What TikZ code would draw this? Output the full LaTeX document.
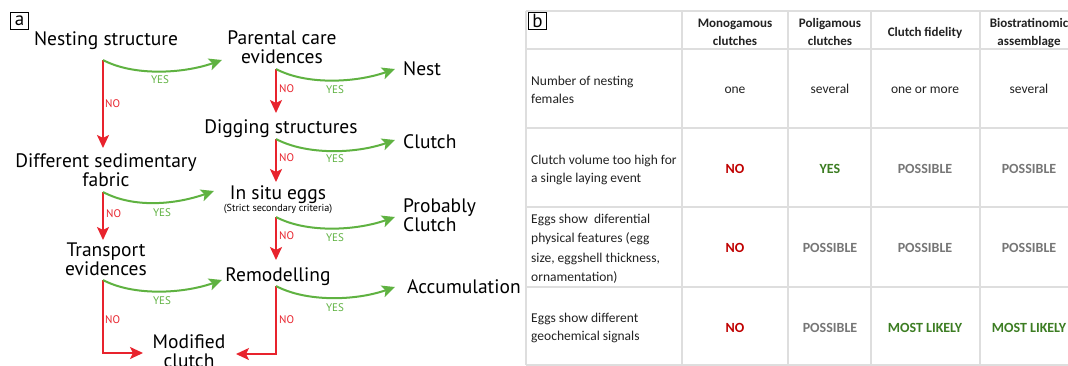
\documentclass[tikz,border=0pt]{standalone}
\usepackage{fontspec}
\setmainfont{PT Sans}
\newfontfamily\tabfont{Carlito}
\usetikzlibrary{arrows.meta}
\definecolor{ared}{RGB}{232,35,45}
\definecolor{agreen}{RGB}{95,178,65}
\definecolor{gridgray}{RGB}{222,222,222}
\definecolor{vred}{RGB}{192,0,0}
\definecolor{vgreen}{RGB}{60,125,34}
\definecolor{vgray}{RGB}{118,118,118}
\definecolor{tabtext}{RGB}{34,34,34}
\tikzset{
 lab/.style={font=\fontsize{19.5}{19}\selectfont, inner sep=0pt, align=center, anchor=base},
 smalllab/.style={font=\fontsize{11}{12}\selectfont, inner sep=0pt},
 nolab/.style={smalllab, text=ared, anchor=base west},
 yeslab/.style={smalllab, text=agreen, anchor=base},
 tipstyle/.style={-{Stealth[length=13pt,width=12pt,inset=3pt]}},
 noarrow/.style={draw=ared, line width=2pt, tipstyle},
 yesarrow/.style={draw=agreen, line width=2pt, tipstyle},
 panel/.style={draw=black, line width=0.8pt, minimum width=18pt, minimum height=17pt, inner sep=0pt, font=\fontsize{19}{19}\selectfont},
 hdr/.style={font=\tabfont\bfseries\fontsize{13}{18}\selectfont, align=center, anchor=base, inner sep=0pt, text=tabtext},
 rowlab/.style={font=\tabfont\fontsize{13.5}{18.5}\selectfont, align=left, anchor=base west, inner sep=0pt, text=tabtext},
 rowlabw/.style={rowlab, font=\tabfont\fontsize{13.5}{19.5}\selectfont},
 val/.style={font=\tabfont\fontsize{13.5}{16}\selectfont, anchor=base, inner sep=0pt, text=tabtext},
 vb/.style={font=\tabfont\bfseries\fontsize{14}{16}\selectfont, anchor=base, inner sep=0pt},
 gridline/.style={draw=gridgray, line width=1.3pt}
}
\begin{document}
\begin{tikzpicture}[x=1pt,y=-1pt]
\useasboundingbox[fill=white] (0,0) rectangle (1068,365);
\clip (0,0) rectangle (1068,365);

% ---------------- panel a ----------------
\node[panel] (pa) at (19.5,21) {a};

% (multi-line nodes are placed at the baseline of their last line)
\node[lab] (nest) at (106,45) {Nesting structure};
\node[lab] (par) at (282,63) {Parental care\\evidences};
\node[lab,anchor=base west] (nestR) at (403,75) {Nest};
\node[lab] (dig) at (281,133) {Digging structures};
\node[lab,anchor=base west] (clutchR) at (403,148) {Clutch};
\node[lab] (diff) at (106,186) {Different sedimentary\\fabric};
\node[lab] (insitu) at (278,199) {In situ eggs};
\node[font=\fontsize{10.2}{11}\selectfont, inner sep=0pt, anchor=base] (strict) at (278,211) {(Strict secondary criteria)};
\node[lab,anchor=base west,align=left] (prob) at (403,231) {Probably\\Clutch};
\node[lab] (trans) at (106,275) {Transport\\evidences};
\node[lab] (remod) at (278,281) {Remodelling};
\node[lab,anchor=base west] (accum) at (407,293) {Accumulation};
\node[lab] (modif) at (189,367) {Modified\\clutch};

% connector coordinates
\coordinate (s1) at (103,60);  \coordinate (e1y) at (222,60);  \coordinate (e1n) at (103,148);
\coordinate (s2) at (276,69);  \coordinate (e2y) at (395,69);  \coordinate (e2n) at (276,113);
\coordinate (s3) at (276,139); \coordinate (e3y) at (395,140); \coordinate (e3n) at (276,182);
\coordinate (s4) at (103,192); \coordinate (e4y) at (214,191); \coordinate (e4n) at (103,240);
\coordinate (s5) at (276,217); \coordinate (e5y) at (395,217); \coordinate (e5n) at (276,260);
\coordinate (s6) at (103,280); \coordinate (e6y) at (222,280); \coordinate (c6) at (103,353); \coordinate (e6n) at (143,353);
\coordinate (s7) at (276,286); \coordinate (e7y) at (395,287); \coordinate (c7) at (276,354); \coordinate (e7n) at (236,354);

% red NO arrows
\draw[noarrow] (s1) -- (e1n);
\draw[noarrow] (s2) -- (e2n);
\draw[noarrow] (s3) -- (e3n);
\draw[noarrow] (s4) -- (e4n);
\draw[noarrow] (s5) -- (e5n);
\draw[noarrow] (s6) -- (c6) -- (e6n);
\draw[noarrow] (s7) -- (c7) -- (e7n);

% green YES arrows
\draw[yesarrow] (s1) .. controls +(30,16) and +(-40,14) .. (e1y);
\draw[yesarrow] (s2) .. controls +(30,16) and +(-40,14) .. (e2y);
\draw[yesarrow] (s3) .. controls +(30,16) and +(-40,14) .. (e3y);
\draw[yesarrow] (s4) .. controls +(30,16) and +(-40,14) .. (e4y);
\draw[yesarrow] (s5) .. controls +(30,16) and +(-40,14) .. (e5y);
\draw[yesarrow] (s6) .. controls +(30,16) and +(-40,14) .. (e6y);
\draw[yesarrow] (s7) .. controls +(30,16) and +(-40,14) .. (e7y);

% labels
\node[nolab] (n1) at (105,107) {NO};
\node[nolab] (n2) at (279,92) {NO};
\node[nolab] (n3) at (279,161) {NO};
\node[nolab] (n4) at (106,217) {NO};
\node[nolab] (n5) at (279,239) {NO};
\node[nolab] (n6) at (105,323) {NO};
\node[nolab] (n7) at (279,323) {NO};
\node[yeslab] (y1) at (160,83) {YES};
\node[yeslab] (y2) at (335,93) {YES};
\node[yeslab] (y3) at (335,162) {YES};
\node[yeslab] (y4) at (162,216) {YES};
\node[yeslab] (y5) at (335,241) {YES};
\node[yeslab] (y6) at (162,304) {YES};
\node[yeslab] (y7) at (335,311) {YES};

% ---------------- panel b ----------------
\foreach \yy in {11,49,128,207,287,365} \draw[gridline] (526,\yy) -- (1068,\yy);
\foreach \xx in {526,682,788,871,980} \draw[gridline] (\xx,11) -- (\xx,365);

\node[panel] (pb) at (537.5,20.5) {b};

\node[hdr] (h1) at (735,45) {Monogamous\\clutches};
\node[hdr] (h2) at (830,45) {Poligamous\\clutches};
\node[hdr] (h3) at (925,36) {Clutch fidelity};
\node[hdr] (h4) at (1029,45) {Biostratinomic\\assemblage};

\node[rowlab] (r1) at (531,103.5) {Number of nesting\\females};
\node[rowlab] (r2) at (531,182.5) {Clutch volume too high for\\a single laying event};
\node[rowlabw] (r3) at (531,281.5) {Eggs show\ \ diferential\\physical features (egg\\size, eggshell thickness,\\ornamentation)};
\node[rowlab] (r4) at (531,340.5) {Eggs show different\\geochemical signals};

\node[val] (v11) at (735,93) {one};
\node[val] (v12) at (830,93) {several};
\node[val] (v13) at (925,93) {one or more};
\node[val] (v14) at (1029,93) {several};

\node[vb,text=vred] (v21) at (735,173) {NO};
\node[vb,text=vgreen] (v22) at (830,173) {YES};
\node[vb,text=vgray] (v23) at (925,173) {POSSIBLE};
\node[vb,text=vgray] (v24) at (1029,173) {POSSIBLE};

\node[vb,text=vred] (v31) at (735,252) {NO};
\node[vb,text=vgray] (v32) at (830,252) {POSSIBLE};
\node[vb,text=vgray] (v33) at (925,252) {POSSIBLE};
\node[vb,text=vgray] (v34) at (1029,252) {POSSIBLE};

\node[vb,text=vred] (v41) at (735,332) {NO};
\node[vb,text=vgray] (v42) at (830,332) {POSSIBLE};
\node[vb,text=vgreen] (v43) at (925,332) {MOST LIKELY};
\node[vb,text=vgreen] (v44) at (1029,332) {MOST LIKELY};
\end{tikzpicture}
\end{document}
